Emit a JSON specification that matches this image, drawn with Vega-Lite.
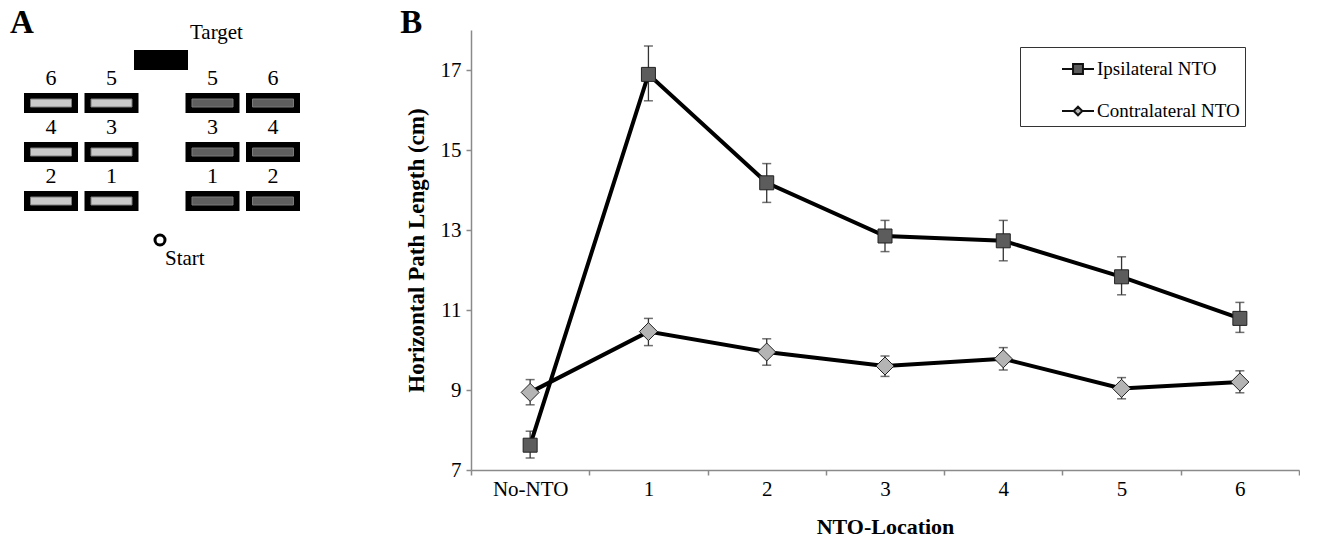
{
  "$schema": "https://vega.github.io/schema/vega-lite/v6.json",
  "background": "white",
  "padding": {"left": 0, "top": 6, "right": 0, "bottom": 0},
  "spacing": 70,
  "config": {
    "view": {"stroke": null},
    "font": "Liberation Serif",
    "axis": {"grid": false}
  },
  "datasets": {
    "obstacles": [
      {"side": "Contralateral", "loc": 6, "lateral": -11.0, "forward": 13.7},
      {"side": "Contralateral", "loc": 5, "lateral": -4.95, "forward": 13.7},
      {"side": "Contralateral", "loc": 4, "lateral": -11.0, "forward": 8.8},
      {"side": "Contralateral", "loc": 3, "lateral": -4.95, "forward": 8.8},
      {"side": "Contralateral", "loc": 2, "lateral": -11.0, "forward": 3.9},
      {"side": "Contralateral", "loc": 1, "lateral": -4.95, "forward": 3.9},
      {"side": "Ipsilateral", "loc": 5, "lateral": 5.15, "forward": 13.7},
      {"side": "Ipsilateral", "loc": 6, "lateral": 11.2, "forward": 13.7},
      {"side": "Ipsilateral", "loc": 3, "lateral": 5.15, "forward": 8.8},
      {"side": "Ipsilateral", "loc": 4, "lateral": 11.2, "forward": 8.8},
      {"side": "Ipsilateral", "loc": 1, "lateral": 5.15, "forward": 3.9},
      {"side": "Ipsilateral", "loc": 2, "lateral": 11.2, "forward": 3.9}
    ],
    "targets": [
      {"item": "Target", "lateral": 0.0, "forward": 18.0}
    ],
    "starts": [
      {"item": "Start", "lateral": -0.1, "forward": 0.0}
    ],
    "results": [
      {"loc": "No-NTO", "series": "Ipsilateral NTO", "mean": 7.62, "lo": 7.30, "hi": 7.97},
      {"loc": "1", "series": "Ipsilateral NTO", "mean": 16.89, "lo": 16.23, "hi": 17.60},
      {"loc": "2", "series": "Ipsilateral NTO", "mean": 14.18, "lo": 13.69, "hi": 14.66},
      {"loc": "3", "series": "Ipsilateral NTO", "mean": 12.85, "lo": 12.46, "hi": 13.24},
      {"loc": "4", "series": "Ipsilateral NTO", "mean": 12.73, "lo": 12.23, "hi": 13.24},
      {"loc": "5", "series": "Ipsilateral NTO", "mean": 11.83, "lo": 11.38, "hi": 12.33},
      {"loc": "6", "series": "Ipsilateral NTO", "mean": 10.79, "lo": 10.44, "hi": 11.19},
      {"loc": "No-NTO", "series": "Contralateral NTO", "mean": 8.94, "lo": 8.63, "hi": 9.26},
      {"loc": "1", "series": "Contralateral NTO", "mean": 10.46, "lo": 10.11, "hi": 10.79},
      {"loc": "2", "series": "Contralateral NTO", "mean": 9.95, "lo": 9.62, "hi": 10.28},
      {"loc": "3", "series": "Contralateral NTO", "mean": 9.60, "lo": 9.34, "hi": 9.85},
      {"loc": "4", "series": "Contralateral NTO", "mean": 9.78, "lo": 9.50, "hi": 10.06},
      {"loc": "5", "series": "Contralateral NTO", "mean": 9.04, "lo": 8.78, "hi": 9.31},
      {"loc": "6", "series": "Contralateral NTO", "mean": 9.20, "lo": 8.93, "hi": 9.48}
    ]
  },
  "resolve": {
    "scale": {"fill": "independent", "stroke": "independent", "shape": "independent", "x": "independent", "y": "independent"},
    "legend": {"fill": "independent", "stroke": "independent", "shape": "independent"}
  },
  "hconcat": [
    {
      "width": 330,
      "height": 440,
      "encoding": {
        "x": {"field": "lateral", "type": "quantitative", "scale": {"domain": [-16.1, 16.9], "nice": false, "zero": false}, "axis": null},
        "y": {"field": "forward", "type": "quantitative", "scale": {"domain": [-23, 21], "nice": false, "zero": false}, "axis": null}
      },
      "layer": [
        {
          "data": {"name": "obstacles"},
          "mark": {"type": "rect", "width": 54, "height": 20, "color": "black"}
        },
        {
          "data": {"name": "obstacles"},
          "mark": {"type": "rect", "width": 41, "height": 8, "stroke": "#7a7a7a", "strokeWidth": 1},
          "encoding": {
            "fill": {"field": "side", "type": "nominal", "scale": {"domain": ["Contralateral", "Ipsilateral"], "range": ["#c9c9c9", "#5e5e5e"]}, "legend": null}
          }
        },
        {
          "data": {"name": "obstacles"},
          "mark": {"type": "text", "fontSize": 22, "font": "Liberation Serif", "color": "black", "align": "center", "baseline": "middle", "dy": -25},
          "encoding": {"text": {"field": "loc", "type": "nominal"}}
        },
        {
          "data": {"name": "targets"},
          "mark": {"type": "rect", "width": 54, "height": 20, "color": "black"}
        },
        {
          "data": {"name": "targets"},
          "mark": {"type": "text", "fontSize": 21, "font": "Liberation Serif", "color": "black", "align": "left", "baseline": "middle", "dx": 29, "dy": -27},
          "encoding": {"text": {"field": "item", "type": "nominal"}}
        },
        {
          "data": {"name": "targets"},
          "mark": {"type": "text", "text": "A", "fontSize": 33, "fontWeight": "bold", "font": "Liberation Serif", "color": "black", "align": "left", "baseline": "alphabetic", "dx": -151, "dy": -27.5}
        },
        {
          "data": {"name": "starts"},
          "mark": {"type": "point", "shape": "circle", "size": 100, "filled": false, "fill": "white", "stroke": "black", "strokeWidth": 3, "opacity": 1}
        },
        {
          "data": {"name": "starts"},
          "mark": {"type": "text", "fontSize": 21, "font": "Liberation Serif", "color": "black", "align": "left", "baseline": "middle", "dx": 5, "dy": 19},
          "encoding": {"text": {"field": "item", "type": "nominal"}}
        }
      ]
    },
    {
      "width": 828,
      "height": 440,
      "data": {"name": "results"},
      "encoding": {
        "x": {
          "field": "loc", "type": "ordinal",
          "sort": ["No-NTO", "1", "2", "3", "4", "5", "6"],
          "scale": {"domain": ["No-NTO", "1", "2", "3", "4", "5", "6"], "paddingInner": 0, "paddingOuter": 0},
          "axis": {
            "title": "NTO-Location", "labelAngle": 0, "tickBand": "extent",
            "labelFont": "Liberation Serif", "labelFontSize": 21, "labelColor": "black", "labelPadding": 3,
            "titleFont": "Liberation Serif", "titleFontSize": 22, "titleFontWeight": "bold", "titleColor": "black", "titlePadding": 17,
            "domainColor": "#8a8a8a", "domainWidth": 1.5, "tickColor": "#8a8a8a", "tickSize": 5, "tickWidth": 1.5
          }
        }
      },
      "layer": [
        {
          "mark": {"type": "rule", "color": "#333333", "strokeWidth": 1.3},
          "encoding": {
            "y": {
              "field": "lo", "type": "quantitative", "title": "Horizontal Path Length (cm)",
              "scale": {"domain": [7, 18], "nice": false, "zero": false},
              "axis": {
                "values": [7, 9, 11, 13, 15, 17],
                "labelFont": "Liberation Serif", "labelFontSize": 21, "labelColor": "black", "labelPadding": 5,
                "titleFont": "Liberation Serif", "titleFontSize": 23, "titleFontWeight": "bold", "titleColor": "black", "titlePadding": 12,
                "domainColor": "#8a8a8a", "domainWidth": 1.5, "tickColor": "#8a8a8a", "tickSize": 5, "tickWidth": 1.5
              }
            },
            "y2": {"field": "hi"}
          }
        },
        {
          "mark": {"type": "tick", "color": "#333333", "size": 9, "thickness": 1.5},
          "encoding": {"y": {"field": "lo", "type": "quantitative", "title": "Horizontal Path Length (cm)"}}
        },
        {
          "mark": {"type": "tick", "color": "#333333", "size": 9, "thickness": 1.5},
          "encoding": {"y": {"field": "hi", "type": "quantitative", "title": "Horizontal Path Length (cm)"}}
        },
        {
          "mark": {"type": "line", "color": "black", "strokeWidth": 4},
          "encoding": {
            "y": {"field": "mean", "type": "quantitative", "title": "Horizontal Path Length (cm)"},
            "detail": {"field": "series", "type": "nominal"}
          }
        },
        {
          "mark": {"type": "point", "filled": true, "opacity": 1, "stroke": "#222222", "strokeWidth": 1},
          "encoding": {
            "y": {"field": "mean", "type": "quantitative", "title": "Horizontal Path Length (cm)"},
            "shape": {
              "condition": {"test": "datum.series === 'Ipsilateral NTO'", "value": "square"},
              "value": "diamond"
            },
            "fill": {
              "condition": {"test": "datum.series === 'Ipsilateral NTO'", "value": "#5c5c5c"},
              "value": "#b4b4b4"
            },
            "size": {
              "condition": {"test": "datum.series === 'Ipsilateral NTO'", "value": 196},
              "value": 324
            }
          }
        },
        {
          "transform": [{"filter": "datum.mean < 0"}],
          "mark": {"type": "point", "filled": true, "opacity": 1, "strokeWidth": 2},
          "encoding": {
            "y": {"field": "mean", "type": "quantitative", "title": "Horizontal Path Length (cm)"},
            "shape": {
              "field": "series", "type": "nominal",
              "scale": {"domain": ["Ipsilateral NTO", "Contralateral NTO"], "range": ["M-1,0H-0.31M0.31,0H1M-0.31,-0.31H0.31V0.31H-0.31Z", "M-1,0H-0.27M0.27,0H1M0,-0.27L0.27,0L0,0.27L-0.27,0Z"]},
              "legend": {
                "title": null, "orient": "none", "legendX": 549, "legendY": 17, "direction": "vertical",
                "padding": 5, "strokeColor": "#333333", "fillColor": "white",
                "labelFont": "Liberation Serif", "labelFontSize": 19, "labelColor": "black", "labelOffset": 2,
                "symbolSize": 1024, "rowPadding": 15, "symbolOffset": 36,
                "symbolStrokeWidth": 2, "symbolStrokeColor": "black"
              }
            },
            "fill": {
              "field": "series", "type": "nominal",
              "scale": {"domain": ["Ipsilateral NTO", "Contralateral NTO"], "range": ["#5c5c5c", "#b4b4b4"]},
              "legend": {
                "title": null, "orient": "none", "legendX": 549, "legendY": 17, "direction": "vertical",
                "padding": 5, "strokeColor": "#333333", "fillColor": "white",
                "labelFont": "Liberation Serif", "labelFontSize": 19, "labelColor": "black", "labelOffset": 2,
                "symbolSize": 1024, "rowPadding": 15, "symbolOffset": 36,
                "symbolStrokeWidth": 2, "symbolStrokeColor": "black"
              }
            },
            "stroke": {
              "field": "series", "type": "nominal",
              "scale": {"domain": ["Ipsilateral NTO", "Contralateral NTO"], "range": ["#111111", "#111111"]},
              "legend": {
                "title": null, "orient": "none", "legendX": 549, "legendY": 17, "direction": "vertical",
                "padding": 5, "strokeColor": "#333333", "fillColor": "white",
                "labelFont": "Liberation Serif", "labelFontSize": 19, "labelColor": "black", "labelOffset": 2,
                "symbolSize": 1024, "rowPadding": 15, "symbolOffset": 36,
                "symbolStrokeWidth": 2, "symbolStrokeColor": "black"
              }
            }
          }
        },
        {
          "data": {"values": [{}]},
          "mark": {"type": "text", "text": "B", "fontSize": 33, "fontWeight": "bold", "font": "Liberation Serif", "color": "black", "align": "left", "baseline": "alphabetic", "dx": -130, "dy": 2.5},
          "encoding": {
            "x": {"datum": "No-NTO", "type": "ordinal"},
            "y": {"datum": 18, "type": "quantitative"}
          }
        }
      ]
    }
  ]
}
